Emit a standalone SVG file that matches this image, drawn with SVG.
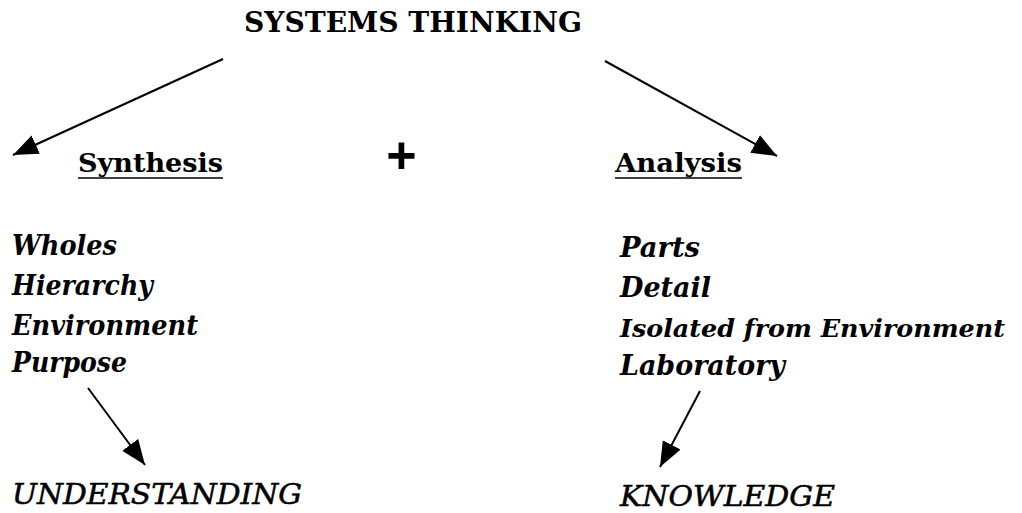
<svg xmlns="http://www.w3.org/2000/svg" width="1022" height="513" viewBox="0 0 1022 513">
<style>
text{font-family:"DejaVu Serif","Liberation Serif",serif;fill:#000}
.title{font-size:27px;font-weight:bold}
.head{font-size:26px;font-weight:bold}
.item{font-size:27px;font-weight:bold;font-style:italic}
.res{font-size:27px;font-style:italic;stroke:#000;stroke-width:0.5}
.ul{stroke:#000;stroke-width:1.6}
.conn{stroke:#000;stroke-width:2;fill:none;marker-end:url(#ah)}
</style>
<defs>
<marker id="ah" markerUnits="userSpaceOnUse" markerWidth="28" markerHeight="22" refX="25" refY="10" orient="auto">
<path d="M0,0 L25,10 L0,20 z" fill="#000"/>
</marker>
</defs>
<rect width="1022" height="513" fill="#fff"/>
<g id="title"><text class="title" x="244" y="32" textLength="338" lengthAdjust="spacingAndGlyphs">SYSTEMS THINKING</text></g>
<g id="synthesis">
<text class="head" x="78" y="172" textLength="145" lengthAdjust="spacingAndGlyphs">Synthesis</text>
<line class="ul" x1="78" y1="178" x2="223" y2="178"/>
</g>
<g id="plus"><text x="401.5" y="173" text-anchor="middle" style="font-size:52px;font-weight:bold;font-family:'Liberation Sans',sans-serif">+</text></g>
<g id="analysis">
<text class="head" x="615" y="172" textLength="127" lengthAdjust="spacingAndGlyphs">Analysis</text>
<line class="ul" x1="615" y1="178" x2="742" y2="178"/>
</g>
<g id="synthesis-list">
<text class="item" x="12" y="255" textLength="105" lengthAdjust="spacingAndGlyphs">Wholes</text>
<text class="item" x="12" y="295" textLength="141" lengthAdjust="spacingAndGlyphs">Hierarchy</text>
<text class="item" x="12" y="335" textLength="186" lengthAdjust="spacingAndGlyphs">Environment</text>
<text class="item" x="12" y="372" textLength="115" lengthAdjust="spacingAndGlyphs">Purpose</text>
</g>
<g id="analysis-list">
<text class="item" x="620" y="257" textLength="80" lengthAdjust="spacingAndGlyphs">Parts</text>
<text class="item" x="620" y="297" textLength="91" lengthAdjust="spacingAndGlyphs">Detail</text>
<text class="item" x="620" y="337" style="font-size:25px" textLength="385" lengthAdjust="spacingAndGlyphs">Isolated from Environment</text>
<text class="item" x="620" y="375" textLength="165" lengthAdjust="spacingAndGlyphs">Laboratory</text>
</g>
<g id="understanding"><text class="res" x="12" y="504" textLength="290" lengthAdjust="spacingAndGlyphs">UNDERSTANDING</text></g>
<g id="knowledge"><text class="res" x="620" y="506" textLength="215" lengthAdjust="spacingAndGlyphs">KNOWLEDGE</text></g>
<g id="connectors">
<line class="conn" x1="223" y1="59" x2="13" y2="155"/>
<line class="conn" x1="605" y1="61" x2="777" y2="156"/>
<line class="conn" x1="88" y1="388" x2="145" y2="465"/>
<line class="conn" x1="700" y1="391" x2="660" y2="467"/>
</g>
</svg>
